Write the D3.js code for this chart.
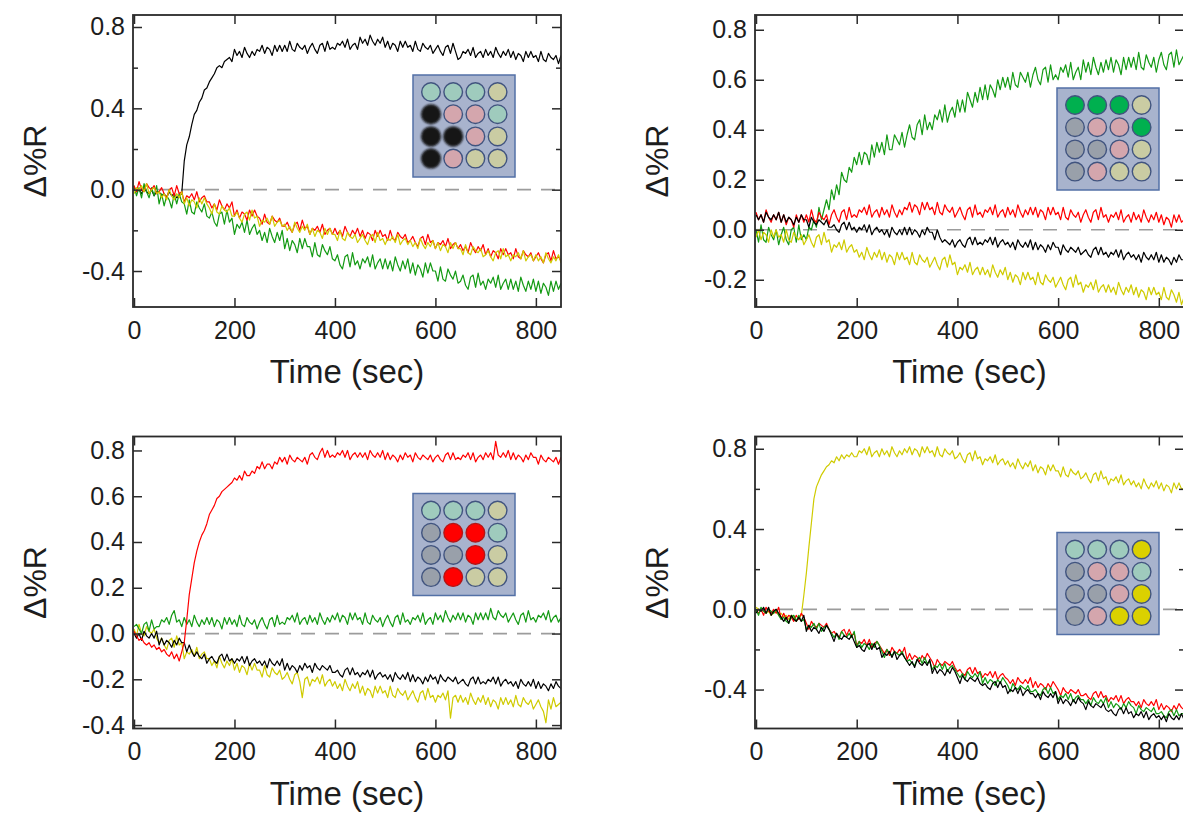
<!DOCTYPE html>
<html>
<head>
<meta charset="utf-8">
<script src="https://cdn.jsdelivr.net/npm/d3@7"></script>
<style>
  html, body { margin: 0; padding: 0; background: #fff; }
  svg { display: block; font-family: "Liberation Sans", Arial, sans-serif; }
</style>
</head>
<body>
<svg id="chart" width="1183" height="813"></svg>
<script>
// Sample times (sec), one reading every 5 s
const time = [
  0,5,10,15,20,25,30,35,40,45,
  50,55,60,65,70,75,80,85,90,95,
  100,105,110,115,120,125,130,135,140,145,
  150,155,160,165,170,175,180,185,190,195,
  200,205,210,215,220,225,230,235,240,245,
  250,255,260,265,270,275,280,285,290,295,
  300,305,310,315,320,325,330,335,340,345,
  350,355,360,365,370,375,380,385,390,395,
  400,405,410,415,420,425,430,435,440,445,
  450,455,460,465,470,475,480,485,490,495,
  500,505,510,515,520,525,530,535,540,545,
  550,555,560,565,570,575,580,585,590,595,
  600,605,610,615,620,625,630,635,640,645,
  650,655,660,665,670,675,680,685,690,695,
  700,705,710,715,720,725,730,735,740,745,
  750,755,760,765,770,775,780,785,790,795,
  800,805,810,815,820,825,830,835,840,845,
  850
];

// ---- Panel A: black analyte ----
const aBlack = [
  0.01,-0.01,0.00,-0.02,0.01,-0.01,-0.02,0.00,-0.03,-0.01,
  -0.01,-0.03,-0.02,-0.04,-0.01,-0.03,-0.02,-0.04,-0.03,-0.02,
  0.14,0.22,0.26,0.32,0.37,0.39,0.43,0.45,0.49,0.50,
  0.53,0.55,0.57,0.60,0.61,0.60,0.63,0.64,0.65,0.63,
  0.69,0.66,0.68,0.65,0.70,0.67,0.65,0.68,0.66,0.69,
  0.68,0.71,0.67,0.70,0.69,0.66,0.71,0.68,0.71,0.68,
  0.71,0.68,0.73,0.69,0.68,0.72,0.70,0.69,0.71,0.67,
  0.70,0.72,0.69,0.67,0.71,0.72,0.68,0.73,0.69,0.70,
  0.69,0.72,0.71,0.73,0.70,0.74,0.69,0.71,0.72,0.69,
  0.75,0.72,0.74,0.71,0.76,0.73,0.71,0.74,0.72,0.75,
  0.70,0.73,0.69,0.72,0.71,0.68,0.73,0.70,0.73,0.70,
  0.71,0.68,0.73,0.69,0.68,0.72,0.70,0.69,0.71,0.67,
  0.69,0.71,0.68,0.66,0.70,0.71,0.67,0.72,0.68,0.64,
  0.65,0.68,0.67,0.69,0.66,0.70,0.65,0.67,0.68,0.65,
  0.69,0.66,0.68,0.65,0.70,0.67,0.65,0.68,0.66,0.69,
  0.65,0.68,0.64,0.67,0.66,0.63,0.68,0.65,0.68,0.65,
  0.66,0.63,0.68,0.64,0.63,0.67,0.65,0.64,0.66,0.62,
  0.66
];
const aRed = [
  0.02,-0.01,0.04,0.00,-0.01,0.03,0.01,0.00,0.02,-0.02,
  -0.01,0.01,-0.02,-0.04,0.00,0.01,-0.03,0.02,-0.02,-0.01,
  -0.06,-0.03,-0.04,-0.02,-0.05,-0.01,-0.06,-0.04,-0.03,-0.06,
  -0.06,-0.09,-0.07,-0.10,-0.05,-0.08,-0.10,-0.07,-0.09,-0.06,
  -0.13,-0.10,-0.14,-0.11,-0.12,-0.15,-0.10,-0.13,-0.10,-0.13,
  -0.14,-0.17,-0.12,-0.16,-0.17,-0.13,-0.15,-0.16,-0.14,-0.18,
  -0.18,-0.16,-0.19,-0.21,-0.17,-0.16,-0.20,-0.15,-0.19,-0.18,
  -0.22,-0.19,-0.20,-0.18,-0.21,-0.17,-0.22,-0.20,-0.19,-0.22,
  -0.19,-0.22,-0.20,-0.23,-0.18,-0.21,-0.23,-0.20,-0.22,-0.19,
  -0.23,-0.20,-0.24,-0.21,-0.22,-0.25,-0.20,-0.23,-0.20,-0.23,
  -0.22,-0.25,-0.20,-0.24,-0.25,-0.21,-0.23,-0.24,-0.22,-0.26,
  -0.25,-0.23,-0.26,-0.28,-0.24,-0.23,-0.27,-0.22,-0.26,-0.25,
  -0.29,-0.26,-0.27,-0.25,-0.28,-0.24,-0.29,-0.27,-0.26,-0.29,
  -0.27,-0.30,-0.28,-0.31,-0.26,-0.29,-0.31,-0.28,-0.30,-0.27,
  -0.32,-0.29,-0.33,-0.30,-0.31,-0.34,-0.29,-0.32,-0.29,-0.32,
  -0.31,-0.34,-0.29,-0.33,-0.34,-0.30,-0.32,-0.33,-0.31,-0.35,
  -0.33,-0.31,-0.34,-0.36,-0.32,-0.31,-0.35,-0.30,-0.34,-0.33,
  -0.35
];
const aYellow = [
  -0.02,0.01,0.00,0.02,-0.01,0.03,-0.02,0.00,0.01,-0.02,
  -0.01,-0.04,-0.02,-0.05,0.00,-0.03,-0.05,-0.02,-0.04,-0.01,
  -0.07,-0.04,-0.08,-0.05,-0.06,-0.09,-0.04,-0.07,-0.04,-0.07,
  -0.09,-0.12,-0.07,-0.11,-0.12,-0.08,-0.10,-0.11,-0.09,-0.13,
  -0.13,-0.11,-0.14,-0.16,-0.12,-0.11,-0.15,-0.10,-0.14,-0.13,
  -0.18,-0.15,-0.16,-0.14,-0.17,-0.13,-0.18,-0.16,-0.15,-0.18,
  -0.17,-0.20,-0.18,-0.21,-0.16,-0.19,-0.21,-0.18,-0.20,-0.17,
  -0.22,-0.19,-0.23,-0.20,-0.21,-0.24,-0.19,-0.22,-0.19,-0.22,
  -0.22,-0.25,-0.20,-0.24,-0.25,-0.21,-0.23,-0.24,-0.22,-0.26,
  -0.24,-0.22,-0.25,-0.27,-0.23,-0.22,-0.26,-0.21,-0.25,-0.24,
  -0.27,-0.24,-0.25,-0.23,-0.26,-0.22,-0.27,-0.25,-0.24,-0.27,
  -0.25,-0.28,-0.26,-0.29,-0.24,-0.27,-0.29,-0.26,-0.28,-0.25,
  -0.29,-0.26,-0.30,-0.27,-0.28,-0.31,-0.26,-0.29,-0.26,-0.29,
  -0.29,-0.32,-0.27,-0.31,-0.32,-0.28,-0.30,-0.31,-0.29,-0.33,
  -0.32,-0.30,-0.33,-0.35,-0.31,-0.30,-0.34,-0.29,-0.33,-0.32,
  -0.35,-0.32,-0.33,-0.31,-0.34,-0.30,-0.35,-0.33,-0.32,-0.35,
  -0.32,-0.35,-0.33,-0.36,-0.31,-0.34,-0.36,-0.33,-0.35,-0.32,
  -0.36
];
const aGreen = [
  0.02,-0.03,0.01,-0.04,0.03,-0.01,-0.04,0.01,-0.03,0.02,
  -0.07,-0.02,-0.08,-0.03,-0.05,-0.09,-0.02,-0.07,-0.02,-0.06,
  -0.07,-0.12,-0.05,-0.11,-0.12,-0.06,-0.09,-0.11,-0.07,-0.13,
  -0.14,-0.11,-0.16,-0.18,-0.12,-0.11,-0.17,-0.10,-0.16,-0.14,
  -0.22,-0.17,-0.19,-0.16,-0.21,-0.15,-0.22,-0.19,-0.17,-0.22,
  -0.20,-0.25,-0.21,-0.26,-0.19,-0.23,-0.26,-0.21,-0.25,-0.20,
  -0.29,-0.24,-0.30,-0.25,-0.27,-0.31,-0.24,-0.29,-0.24,-0.28,
  -0.28,-0.33,-0.26,-0.32,-0.33,-0.27,-0.30,-0.32,-0.28,-0.34,
  -0.35,-0.32,-0.37,-0.39,-0.33,-0.32,-0.38,-0.31,-0.37,-0.35,
  -0.39,-0.34,-0.36,-0.33,-0.38,-0.32,-0.39,-0.36,-0.34,-0.39,
  -0.34,-0.39,-0.35,-0.40,-0.33,-0.37,-0.40,-0.35,-0.39,-0.34,
  -0.41,-0.36,-0.42,-0.37,-0.39,-0.43,-0.36,-0.41,-0.36,-0.40,
  -0.40,-0.45,-0.38,-0.44,-0.45,-0.39,-0.42,-0.44,-0.40,-0.46,
  -0.45,-0.42,-0.47,-0.49,-0.43,-0.42,-0.48,-0.41,-0.47,-0.45,
  -0.49,-0.44,-0.46,-0.43,-0.48,-0.42,-0.49,-0.46,-0.44,-0.49,
  -0.44,-0.49,-0.45,-0.50,-0.43,-0.47,-0.50,-0.45,-0.49,-0.44,
  -0.50,-0.45,-0.51,-0.46,-0.48,-0.52,-0.45,-0.50,-0.45,-0.49,
  -0.46
];

// ---- Panel B: green analyte ----
const bGreen = [
  0.00,-0.05,0.02,-0.04,-0.05,0.01,-0.02,-0.04,0.00,-0.06,
  -0.02,0.01,-0.04,-0.06,0.00,0.01,-0.05,0.02,-0.04,-0.02,
  -0.04,0.01,0.00,0.04,0.01,0.09,0.04,0.08,0.12,0.08,
  0.16,0.12,0.18,0.14,0.23,0.20,0.19,0.25,0.23,0.29,
  0.26,0.31,0.26,0.31,0.30,0.26,0.34,0.29,0.35,0.31,
  0.35,0.30,0.38,0.32,0.32,0.38,0.36,0.34,0.39,0.33,
  0.38,0.42,0.37,0.36,0.42,0.44,0.38,0.46,0.40,0.43,
  0.40,0.46,0.44,0.48,0.43,0.50,0.43,0.47,0.49,0.45,
  0.52,0.47,0.52,0.47,0.55,0.52,0.49,0.55,0.51,0.57,
  0.52,0.58,0.52,0.58,0.56,0.53,0.60,0.56,0.61,0.57,
  0.61,0.56,0.63,0.58,0.57,0.63,0.61,0.59,0.63,0.57,
  0.62,0.65,0.60,0.58,0.64,0.65,0.59,0.66,0.60,0.62,
  0.60,0.65,0.63,0.66,0.61,0.67,0.60,0.63,0.65,0.60,
  0.68,0.63,0.67,0.62,0.69,0.65,0.62,0.67,0.63,0.68,
  0.64,0.69,0.63,0.68,0.66,0.62,0.69,0.64,0.69,0.65,
  0.69,0.64,0.71,0.65,0.64,0.70,0.67,0.65,0.69,0.63,
  0.68,0.71,0.66,0.64,0.70,0.71,0.65,0.72,0.66,0.68,
  0.70
];
const bRed = [
  0.07,0.04,0.06,0.03,0.08,0.05,0.03,0.06,0.04,0.07,
  0.03,0.06,0.02,0.05,0.04,0.01,0.06,0.03,0.06,0.03,
  0.06,0.03,0.08,0.04,0.03,0.07,0.05,0.04,0.06,0.02,
  0.06,0.08,0.05,0.03,0.07,0.08,0.04,0.09,0.05,0.06,
  0.05,0.08,0.07,0.09,0.06,0.10,0.05,0.07,0.08,0.05,
  0.09,0.06,0.08,0.05,0.10,0.07,0.05,0.08,0.06,0.09,
  0.08,0.11,0.07,0.10,0.09,0.06,0.11,0.08,0.11,0.08,
  0.09,0.06,0.11,0.07,0.06,0.10,0.08,0.07,0.09,0.05,
  0.07,0.09,0.06,0.04,0.08,0.09,0.05,0.10,0.06,0.07,
  0.05,0.08,0.07,0.09,0.06,0.10,0.05,0.07,0.08,0.05,
  0.09,0.06,0.08,0.05,0.10,0.07,0.05,0.08,0.06,0.09,
  0.06,0.09,0.05,0.08,0.07,0.04,0.09,0.06,0.09,0.06,
  0.07,0.04,0.09,0.05,0.04,0.08,0.06,0.05,0.07,0.03,
  0.06,0.08,0.05,0.03,0.07,0.08,0.04,0.09,0.05,0.06,
  0.03,0.06,0.05,0.07,0.04,0.08,0.03,0.05,0.06,0.03,
  0.07,0.04,0.06,0.03,0.08,0.05,0.03,0.06,0.04,0.07,
  0.03,0.06,0.02,0.05,0.04,0.01,0.06,0.03,0.06,0.03,
  0.04
];
const bBlack = [
  0.06,0.04,0.06,0.03,0.07,0.05,0.04,0.06,0.04,0.07,
  0.03,0.06,0.03,0.05,0.04,0.02,0.05,0.03,0.06,0.04,
  0.04,0.01,0.05,0.03,0.02,0.04,0.03,0.02,0.04,0.01,
  0.01,0.02,0.00,-0.01,0.02,0.03,0.00,0.03,0.00,0.01,
  -0.01,0.01,0.00,0.02,-0.01,0.02,-0.02,0.00,0.01,-0.01,
  0.00,-0.02,0.00,-0.03,0.01,-0.01,-0.02,0.00,-0.02,0.01,
  -0.02,0.01,-0.02,0.00,-0.01,-0.03,0.00,-0.02,0.01,-0.01,
  -0.01,-0.04,0.00,-0.03,-0.05,-0.04,-0.05,-0.06,-0.04,-0.07,
  -0.05,-0.04,-0.06,-0.07,-0.04,-0.03,-0.06,-0.03,-0.06,-0.05,
  -0.06,-0.04,-0.05,-0.03,-0.06,-0.03,-0.07,-0.05,-0.04,-0.06,
  -0.05,-0.07,-0.05,-0.08,-0.04,-0.06,-0.07,-0.05,-0.07,-0.04,
  -0.08,-0.05,-0.08,-0.06,-0.07,-0.09,-0.06,-0.08,-0.05,-0.07,
  -0.07,-0.10,-0.06,-0.08,-0.09,-0.07,-0.08,-0.09,-0.07,-0.10,
  -0.09,-0.08,-0.10,-0.11,-0.08,-0.07,-0.10,-0.07,-0.10,-0.09,
  -0.11,-0.09,-0.10,-0.08,-0.11,-0.08,-0.12,-0.10,-0.09,-0.11,
  -0.10,-0.12,-0.10,-0.13,-0.09,-0.11,-0.12,-0.10,-0.12,-0.09,
  -0.13,-0.10,-0.13,-0.11,-0.12,-0.14,-0.11,-0.13,-0.10,-0.12,
  -0.12
];
const bYellow = [
  -0.03,0.00,-0.04,-0.01,-0.02,-0.05,0.00,-0.03,0.00,-0.03,
  -0.02,-0.05,0.00,-0.04,-0.05,-0.01,-0.03,-0.04,-0.02,-0.06,
  -0.04,-0.02,-0.05,-0.07,-0.03,-0.02,-0.06,-0.01,-0.05,-0.04,
  -0.09,-0.06,-0.07,-0.05,-0.08,-0.04,-0.09,-0.07,-0.06,-0.09,
  -0.08,-0.11,-0.09,-0.12,-0.07,-0.10,-0.12,-0.09,-0.11,-0.08,
  -0.12,-0.09,-0.13,-0.10,-0.11,-0.14,-0.09,-0.12,-0.09,-0.12,
  -0.11,-0.14,-0.09,-0.13,-0.14,-0.10,-0.12,-0.13,-0.11,-0.15,
  -0.13,-0.11,-0.14,-0.16,-0.12,-0.11,-0.15,-0.10,-0.14,-0.13,
  -0.18,-0.15,-0.16,-0.14,-0.17,-0.13,-0.18,-0.16,-0.15,-0.18,
  -0.15,-0.18,-0.16,-0.19,-0.14,-0.17,-0.19,-0.16,-0.18,-0.15,
  -0.20,-0.17,-0.21,-0.18,-0.19,-0.22,-0.17,-0.20,-0.17,-0.20,
  -0.19,-0.22,-0.17,-0.21,-0.22,-0.18,-0.20,-0.21,-0.19,-0.23,
  -0.21,-0.19,-0.22,-0.24,-0.20,-0.19,-0.23,-0.18,-0.22,-0.21,
  -0.25,-0.22,-0.23,-0.21,-0.24,-0.20,-0.25,-0.23,-0.22,-0.25,
  -0.22,-0.25,-0.23,-0.26,-0.21,-0.24,-0.26,-0.23,-0.25,-0.22,
  -0.26,-0.23,-0.27,-0.24,-0.25,-0.28,-0.23,-0.26,-0.23,-0.26,
  -0.25,-0.28,-0.23,-0.27,-0.28,-0.24,-0.26,-0.29,-0.25,-0.30,
  -0.27
];

// ---- Panel C: red analyte ----
const cRed = [
  0.01,-0.01,-0.03,-0.02,-0.04,-0.05,-0.04,-0.06,-0.05,-0.07,
  -0.06,-0.08,-0.07,-0.09,-0.10,-0.08,-0.11,-0.09,-0.12,-0.08,
  -0.04,0.06,0.17,0.24,0.31,0.36,0.40,0.43,0.45,0.48,
  0.52,0.54,0.56,0.59,0.60,0.62,0.63,0.64,0.65,0.66,
  0.68,0.67,0.69,0.67,0.71,0.69,0.69,0.71,0.70,0.73,
  0.72,0.75,0.72,0.74,0.74,0.72,0.75,0.74,0.77,0.75,
  0.77,0.74,0.78,0.76,0.75,0.77,0.76,0.75,0.77,0.74,
  0.78,0.79,0.77,0.76,0.79,0.81,0.77,0.80,0.77,0.78,
  0.77,0.79,0.78,0.80,0.77,0.80,0.76,0.78,0.79,0.77,
  0.79,0.77,0.79,0.76,0.80,0.78,0.77,0.79,0.77,0.80,
  0.76,0.79,0.76,0.78,0.77,0.75,0.78,0.76,0.79,0.77,
  0.78,0.75,0.79,0.77,0.76,0.78,0.77,0.76,0.78,0.75,
  0.77,0.78,0.76,0.75,0.78,0.79,0.76,0.79,0.76,0.77,
  0.76,0.78,0.77,0.79,0.76,0.79,0.75,0.77,0.78,0.76,
  0.79,0.77,0.79,0.76,0.84,0.78,0.77,0.79,0.77,0.80,
  0.76,0.79,0.76,0.78,0.77,0.75,0.78,0.76,0.79,0.77,
  0.77,0.74,0.78,0.76,0.75,0.77,0.76,0.75,0.77,0.74,
  0.77
];
const cGreen = [
  0.03,0.04,0.02,0.00,0.04,0.05,0.01,0.06,0.02,0.03,
  0.03,0.06,0.05,0.07,0.04,0.08,0.10,0.05,0.06,0.03,
  0.07,0.04,0.06,0.03,0.08,0.05,0.03,0.06,0.04,0.07,
  0.04,0.07,0.03,0.06,0.05,0.02,0.07,0.04,0.07,0.04,
  0.06,0.03,0.08,0.04,0.03,0.07,0.05,0.04,0.06,0.02,
  0.05,0.07,0.04,0.02,0.06,0.07,0.03,0.08,0.04,0.05,
  0.04,0.07,0.06,0.08,0.05,0.09,0.04,0.06,0.07,0.04,
  0.08,0.05,0.07,0.04,0.09,0.06,0.04,0.07,0.05,0.08,
  0.06,0.09,0.05,0.08,0.07,0.04,0.09,0.06,0.09,0.06,
  0.07,0.04,0.09,0.05,0.04,0.08,0.06,0.05,0.07,0.03,
  0.06,0.08,0.05,0.03,0.07,0.08,0.04,0.09,0.05,0.06,
  0.04,0.07,0.06,0.08,0.05,0.09,0.04,0.06,0.07,0.04,
  0.09,0.06,0.08,0.05,0.10,0.07,0.05,0.08,0.06,0.09,
  0.06,0.09,0.05,0.08,0.07,0.04,0.09,0.06,0.09,0.06,
  0.09,0.06,0.11,0.07,0.06,0.10,0.08,0.07,0.09,0.05,
  0.07,0.09,0.06,0.04,0.08,0.09,0.05,0.10,0.06,0.07,
  0.05,0.08,0.07,0.09,0.06,0.10,0.05,0.07,0.08,0.05,
  0.07
];
const cBlack = [
  0.00,-0.02,0.00,-0.03,0.01,-0.01,-0.02,0.00,-0.02,0.01,
  -0.05,-0.02,-0.05,-0.03,-0.04,-0.06,-0.03,-0.05,-0.02,-0.04,
  -0.04,-0.08,-0.05,-0.08,-0.10,-0.08,-0.10,-0.11,-0.09,-0.13,
  -0.11,-0.10,-0.12,-0.13,-0.10,-0.09,-0.12,-0.09,-0.12,-0.11,
  -0.13,-0.11,-0.12,-0.10,-0.13,-0.10,-0.14,-0.12,-0.11,-0.13,
  -0.12,-0.14,-0.12,-0.15,-0.11,-0.13,-0.14,-0.12,-0.14,-0.11,
  -0.16,-0.13,-0.16,-0.14,-0.15,-0.17,-0.14,-0.16,-0.13,-0.15,
  -0.14,-0.17,-0.13,-0.15,-0.16,-0.14,-0.15,-0.16,-0.14,-0.17,
  -0.17,-0.16,-0.18,-0.19,-0.16,-0.15,-0.18,-0.15,-0.18,-0.17,
  -0.19,-0.17,-0.18,-0.16,-0.19,-0.16,-0.20,-0.18,-0.17,-0.19,
  -0.18,-0.20,-0.18,-0.21,-0.17,-0.19,-0.20,-0.18,-0.20,-0.17,
  -0.21,-0.18,-0.21,-0.19,-0.20,-0.22,-0.19,-0.21,-0.18,-0.20,
  -0.19,-0.22,-0.18,-0.20,-0.21,-0.19,-0.20,-0.21,-0.19,-0.22,
  -0.21,-0.20,-0.22,-0.23,-0.20,-0.19,-0.22,-0.19,-0.22,-0.21,
  -0.22,-0.20,-0.21,-0.19,-0.22,-0.19,-0.23,-0.21,-0.20,-0.22,
  -0.21,-0.23,-0.21,-0.24,-0.20,-0.22,-0.23,-0.21,-0.23,-0.20,
  -0.24,-0.21,-0.24,-0.22,-0.23,-0.25,-0.22,-0.24,-0.21,-0.23,
  -0.24
];
const cYellow = [
  0.02,-0.01,0.04,0.00,-0.01,0.03,0.01,0.00,0.02,-0.02,
  -0.04,-0.02,-0.05,-0.07,-0.03,-0.02,-0.06,-0.01,-0.05,-0.04,
  -0.11,-0.08,-0.09,-0.07,-0.10,-0.06,-0.11,-0.09,-0.08,-0.11,
  -0.11,-0.14,-0.12,-0.15,-0.10,-0.13,-0.15,-0.12,-0.14,-0.11,
  -0.16,-0.13,-0.17,-0.14,-0.15,-0.18,-0.13,-0.16,-0.13,-0.16,
  -0.16,-0.19,-0.14,-0.18,-0.19,-0.15,-0.17,-0.18,-0.16,-0.20,
  -0.19,-0.17,-0.20,-0.22,-0.18,-0.17,-0.21,-0.28,-0.20,-0.19,
  -0.23,-0.20,-0.21,-0.19,-0.22,-0.18,-0.23,-0.21,-0.20,-0.23,
  -0.21,-0.24,-0.22,-0.25,-0.20,-0.23,-0.25,-0.22,-0.24,-0.21,
  -0.26,-0.23,-0.27,-0.24,-0.25,-0.28,-0.23,-0.26,-0.23,-0.26,
  -0.25,-0.28,-0.23,-0.27,-0.28,-0.24,-0.26,-0.27,-0.25,-0.29,
  -0.27,-0.25,-0.28,-0.30,-0.26,-0.25,-0.29,-0.24,-0.28,-0.27,
  -0.30,-0.27,-0.28,-0.26,-0.29,-0.25,-0.37,-0.28,-0.27,-0.30,
  -0.27,-0.30,-0.28,-0.31,-0.26,-0.29,-0.31,-0.28,-0.30,-0.27,
  -0.31,-0.28,-0.32,-0.29,-0.30,-0.33,-0.28,-0.31,-0.28,-0.31,
  -0.29,-0.32,-0.27,-0.31,-0.32,-0.28,-0.30,-0.31,-0.29,-0.33,
  -0.31,-0.29,-0.32,-0.34,-0.39,-0.29,-0.33,-0.28,-0.32,-0.31,
  -0.30
];

// ---- Panel D: yellow analyte ----
const dYellow = [
  0.01,0.00,-0.01,0.00,-0.02,-0.01,-0.03,-0.02,-0.01,-0.03,
  -0.02,-0.04,-0.03,-0.05,-0.03,-0.04,-0.06,-0.04,-0.03,0.07,
  0.18,0.31,0.43,0.55,0.61,0.64,0.67,0.69,0.71,0.72,
  0.74,0.73,0.76,0.74,0.77,0.75,0.77,0.76,0.78,0.76,
  0.76,0.79,0.78,0.80,0.77,0.81,0.76,0.78,0.79,0.76,
  0.80,0.77,0.79,0.76,0.81,0.78,0.76,0.79,0.77,0.80,
  0.78,0.81,0.77,0.80,0.79,0.76,0.81,0.78,0.81,0.78,
  0.79,0.76,0.81,0.77,0.76,0.80,0.78,0.77,0.79,0.75,
  0.76,0.78,0.75,0.73,0.77,0.78,0.74,0.79,0.75,0.76,
  0.72,0.75,0.74,0.76,0.73,0.77,0.72,0.74,0.75,0.72,
  0.74,0.71,0.73,0.70,0.75,0.72,0.70,0.73,0.71,0.74,
  0.69,0.72,0.68,0.71,0.70,0.67,0.72,0.69,0.72,0.69,
  0.69,0.66,0.71,0.67,0.66,0.70,0.68,0.67,0.69,0.65,
  0.66,0.68,0.65,0.63,0.67,0.68,0.64,0.69,0.65,0.66,
  0.62,0.65,0.64,0.66,0.63,0.67,0.62,0.64,0.65,0.62,
  0.64,0.61,0.63,0.60,0.65,0.62,0.60,0.63,0.61,0.64,
  0.60,0.63,0.59,0.62,0.61,0.58,0.63,0.60,0.63,0.60,
  0.60
];
const dRed = [
  0.00,-0.02,0.00,-0.03,0.01,-0.01,-0.02,0.00,-0.02,0.01,
  -0.05,-0.02,-0.05,-0.03,-0.04,-0.06,-0.03,-0.05,-0.02,-0.04,
  -0.07,-0.10,-0.06,-0.08,-0.09,-0.07,-0.08,-0.09,-0.07,-0.10,
  -0.12,-0.11,-0.13,-0.14,-0.11,-0.10,-0.13,-0.10,-0.13,-0.12,
  -0.18,-0.16,-0.17,-0.15,-0.18,-0.15,-0.19,-0.17,-0.16,-0.18,
  -0.20,-0.22,-0.20,-0.23,-0.19,-0.21,-0.22,-0.20,-0.22,-0.19,
  -0.25,-0.22,-0.25,-0.23,-0.24,-0.26,-0.23,-0.25,-0.22,-0.24,
  -0.26,-0.29,-0.25,-0.27,-0.28,-0.26,-0.27,-0.28,-0.26,-0.29,
  -0.31,-0.30,-0.32,-0.33,-0.30,-0.29,-0.32,-0.29,-0.32,-0.31,
  -0.34,-0.32,-0.33,-0.31,-0.34,-0.31,-0.35,-0.33,-0.32,-0.34,
  -0.35,-0.37,-0.35,-0.38,-0.34,-0.36,-0.37,-0.35,-0.37,-0.34,
  -0.39,-0.36,-0.39,-0.37,-0.38,-0.40,-0.37,-0.39,-0.36,-0.38,
  -0.40,-0.43,-0.39,-0.41,-0.42,-0.40,-0.41,-0.42,-0.40,-0.43,
  -0.43,-0.42,-0.44,-0.45,-0.42,-0.41,-0.44,-0.41,-0.44,-0.43,
  -0.46,-0.44,-0.45,-0.43,-0.46,-0.43,-0.47,-0.45,-0.44,-0.46,
  -0.46,-0.48,-0.46,-0.49,-0.45,-0.47,-0.48,-0.46,-0.48,-0.45,
  -0.50,-0.47,-0.50,-0.48,-0.49,-0.51,-0.48,-0.50,-0.47,-0.49,
  -0.50
];
const dGreen = [
  0.00,-0.03,0.01,-0.01,-0.02,0.00,-0.01,-0.02,0.00,-0.03,
  -0.05,-0.04,-0.06,-0.07,-0.04,-0.03,-0.06,-0.03,-0.06,-0.05,
  -0.10,-0.08,-0.09,-0.07,-0.10,-0.07,-0.11,-0.09,-0.08,-0.10,
  -0.12,-0.14,-0.12,-0.15,-0.11,-0.13,-0.14,-0.12,-0.14,-0.11,
  -0.19,-0.16,-0.19,-0.17,-0.18,-0.20,-0.17,-0.19,-0.16,-0.18,
  -0.21,-0.24,-0.20,-0.22,-0.23,-0.21,-0.22,-0.23,-0.21,-0.24,
  -0.26,-0.25,-0.27,-0.28,-0.25,-0.24,-0.27,-0.24,-0.27,-0.26,
  -0.30,-0.28,-0.29,-0.27,-0.30,-0.27,-0.31,-0.29,-0.28,-0.30,
  -0.32,-0.34,-0.32,-0.35,-0.31,-0.33,-0.34,-0.32,-0.34,-0.31,
  -0.37,-0.34,-0.37,-0.35,-0.36,-0.38,-0.35,-0.37,-0.34,-0.36,
  -0.38,-0.41,-0.37,-0.39,-0.40,-0.38,-0.39,-0.40,-0.38,-0.41,
  -0.41,-0.40,-0.42,-0.43,-0.40,-0.39,-0.42,-0.39,-0.42,-0.41,
  -0.45,-0.43,-0.44,-0.42,-0.45,-0.42,-0.46,-0.44,-0.43,-0.45,
  -0.45,-0.47,-0.45,-0.48,-0.44,-0.46,-0.47,-0.45,-0.47,-0.44,
  -0.49,-0.46,-0.49,-0.47,-0.48,-0.50,-0.47,-0.49,-0.46,-0.48,
  -0.49,-0.52,-0.48,-0.50,-0.51,-0.49,-0.50,-0.51,-0.49,-0.52,
  -0.52,-0.51,-0.53,-0.54,-0.51,-0.50,-0.53,-0.50,-0.53,-0.52,
  -0.52
];
const dBlack = [
  -0.02,0.00,-0.01,0.01,-0.02,0.01,-0.03,-0.01,0.00,-0.02,
  -0.04,-0.06,-0.04,-0.07,-0.03,-0.05,-0.06,-0.04,-0.06,-0.03,
  -0.11,-0.08,-0.11,-0.09,-0.10,-0.12,-0.09,-0.11,-0.08,-0.10,
  -0.13,-0.16,-0.12,-0.14,-0.15,-0.13,-0.14,-0.15,-0.13,-0.16,
  -0.19,-0.18,-0.20,-0.21,-0.18,-0.17,-0.20,-0.17,-0.20,-0.19,
  -0.24,-0.22,-0.23,-0.21,-0.24,-0.21,-0.25,-0.23,-0.22,-0.24,
  -0.26,-0.28,-0.26,-0.29,-0.25,-0.27,-0.28,-0.26,-0.28,-0.25,
  -0.32,-0.29,-0.32,-0.30,-0.31,-0.33,-0.30,-0.32,-0.29,-0.31,
  -0.34,-0.37,-0.33,-0.35,-0.36,-0.34,-0.35,-0.36,-0.34,-0.37,
  -0.38,-0.37,-0.39,-0.40,-0.37,-0.36,-0.39,-0.36,-0.39,-0.38,
  -0.42,-0.40,-0.41,-0.39,-0.42,-0.39,-0.43,-0.41,-0.40,-0.42,
  -0.42,-0.44,-0.42,-0.45,-0.41,-0.43,-0.44,-0.42,-0.44,-0.41,
  -0.47,-0.44,-0.47,-0.45,-0.46,-0.48,-0.45,-0.47,-0.44,-0.46,
  -0.47,-0.50,-0.46,-0.48,-0.49,-0.47,-0.48,-0.49,-0.47,-0.50,
  -0.51,-0.50,-0.52,-0.53,-0.50,-0.49,-0.52,-0.49,-0.52,-0.51,
  -0.54,-0.52,-0.53,-0.51,-0.54,-0.51,-0.55,-0.53,-0.52,-0.54,
  -0.53,-0.55,-0.53,-0.56,-0.52,-0.54,-0.55,-0.53,-0.55,-0.52,
  -0.55
];

// Tick values
const xTicks = [0, 200, 400, 600, 800];
const aTicks = [-0.4, 0.0, 0.4, 0.8], aMinor = [-0.2, 0.2, 0.6];
const bTicks = [-0.2, 0.0, 0.2, 0.4, 0.6, 0.8], bMinor = [];
const cTicks = [-0.4, -0.2, 0.0, 0.2, 0.4, 0.6, 0.8], cMinor = [];
const dTicks = [-0.4, 0.0, 0.4, 0.8], dMinor = [-0.2, 0.2, 0.6];

// 4x4 sensor-array insets, row by row
// T teal, K khaki, P pink, G grey, B black, N green, R red, Y yellow
const aWells = ["T","T","T","K", "B","P","P","T", "B","B","P","K", "B","P","K","K"];
const bWells = ["N","N","N","K", "G","P","P","N", "G","G","P","K", "G","P","K","K"];
const cWells = ["T","T","T","K", "G","R","R","T", "G","G","R","K", "G","R","K","K"];
const dWells = ["T","T","T","Y", "G","P","P","T", "G","G","P","Y", "G","P","Y","Y"];

const wellFill = {
  T: "#9fcbbd", K: "#cacca3", P: "#d4a6ad", G: "#99a0aa",
  B: "#161616", N: "#00b04f", R: "#ff0000", Y: "#dbd100"
};
const traceColor = { black: "#000000", red: "#ff0000", green: "#139a13", yellow: "#cfcb00" };

const panels = [
  { id: "a", left: 133, top: 15, width: 428, height: 292, yDomain: [-0.577, 0.859],
    ticks: aTicks, minor: aMinor, wells: aWells, inset: [280, 60],
    traces: [["black", aBlack], ["green", aGreen], ["red", aRed], ["yellow", aYellow]] },
  { id: "b", left: 755, top: 15, width: 429, height: 292, yDomain: [-0.309, 0.859],
    ticks: bTicks, minor: bMinor, wells: bWells, inset: [302, 73],
    traces: [["green", bGreen], ["yellow", bYellow], ["red", bRed], ["black", bBlack]] },
  { id: "c", left: 133, top: 436.5, width: 428, height: 292, yDomain: [-0.415, 0.861],
    ticks: cTicks, minor: cMinor, wells: cWells, inset: [280, 57],
    traces: [["yellow", cYellow], ["black", cBlack], ["green", cGreen], ["red", cRed]] },
  { id: "d", left: 755, top: 436.5, width: 429, height: 292, yDomain: [-0.594, 0.861],
    ticks: dTicks, minor: dMinor, wells: dWells, inset: [302, 96],
    traces: [["yellow", dYellow], ["red", dRed], ["green", dGreen], ["black", dBlack]] }
];

const svg = d3.select("#chart");
const defs = svg.append("defs");
defs.append("filter").attr("id", "soft").attr("x", "-30%").attr("y", "-30%")
  .attr("width", "160%").attr("height", "160%")
  .append("feGaussianBlur").attr("stdDeviation", 0.8);

const ink = "#1d1d1d";
const fmtY = v => v.toFixed(1);

panels.forEach(p => {
  const x = d3.scaleLinear().domain([-2, 850]).range([p.left, p.left + p.width]);
  const y = d3.scaleLinear().domain(p.yDomain).range([p.top + p.height, p.top]);
  const g = svg.append("g").attr("class", "panel-" + p.id);

  defs.append("clipPath").attr("id", "clip-" + p.id)
    .append("rect").attr("x", p.left).attr("y", p.top)
    .attr("width", p.width).attr("height", p.height);

  // zero baseline
  g.append("line")
    .attr("x1", p.left).attr("x2", p.left + p.width)
    .attr("y1", y(0)).attr("y2", y(0))
    .attr("stroke", "#9c9c9c").attr("stroke-width", 1.7)
    .attr("stroke-dasharray", "14,10");

  // sensor array inset
  const bx = p.left + p.inset[0], by = p.top + p.inset[1];
  const inset = g.append("g");
  inset.append("rect").attr("x", bx).attr("y", by).attr("width", 102).attr("height", 102)
    .attr("fill", "#a8b3cd").attr("stroke", "#5370a6").attr("stroke-width", 1.5);
  inset.selectAll("circle").data(p.wells).join("circle")
    .attr("cx", (d, i) => bx + 18 + 22.2 * (i % 4))
    .attr("cy", (d, i) => by + 17 + 22.2 * Math.floor(i / 4))
    .attr("r", 9.3)
    .attr("fill", d => wellFill[d])
    .attr("stroke", d => d === "B" ? "#111" : (d === "R" ? "#b31616" : "#41547f"))
    .attr("stroke-width", 1.4)
    .attr("filter", d => d === "B" ? "url(#soft)" : null);

  // traces
  const line = d3.line().x((d, i) => x(time[i])).y(d => y(d));
  const tg = g.append("g").attr("clip-path", "url(#clip-" + p.id + ")");
  p.traces.forEach(([c, vals]) => {
    tg.append("path").datum(vals).attr("d", line)
      .attr("fill", "none").attr("stroke", traceColor[c])
      .attr("stroke-width", 1.2).attr("stroke-linejoin", "round");
  });

  // axes with inward ticks on all four sides
  g.append("g").attr("transform", `translate(0,${p.top + p.height})`)
    .call(d3.axisBottom(x).tickValues(xTicks).tickSize(-9).tickPadding(14).tickFormat(d => d));
  g.append("g").attr("transform", `translate(0,${p.top})`)
    .call(d3.axisTop(x).tickValues(xTicks).tickSize(-9).tickFormat(""));
  g.append("g").attr("transform", `translate(${p.left},0)`)
    .call(d3.axisLeft(y).tickValues(p.ticks).tickSize(-9).tickPadding(8).tickFormat(fmtY));
  g.append("g").attr("transform", `translate(${p.left + p.width},0)`)
    .call(d3.axisRight(y).tickValues(p.ticks).tickSize(-9).tickFormat(""));
  if (p.minor.length) {
    g.append("g").attr("transform", `translate(${p.left},0)`)
      .call(d3.axisLeft(y).tickValues(p.minor).tickSize(-5).tickFormat(""));
    g.append("g").attr("transform", `translate(${p.left + p.width},0)`)
      .call(d3.axisRight(y).tickValues(p.minor).tickSize(-5).tickFormat(""));
  }
  g.selectAll(".domain").remove();
  g.selectAll(".tick line").attr("stroke", "#2a2a2a").attr("stroke-width", 1.5);
  g.selectAll(".tick text").attr("fill", ink).attr("font-size", 25)
    .attr("font-family", "'Liberation Sans', Arial, sans-serif");

  // frame
  g.append("rect").attr("x", p.left).attr("y", p.top)
    .attr("width", p.width).attr("height", p.height)
    .attr("fill", "none").attr("stroke", "#2a2a2a").attr("stroke-width", 1.8);

  // axis titles
  g.append("text")
    .attr("x", p.left + p.width / 2).attr("y", p.top + p.height + 76)
    .attr("text-anchor", "middle").attr("font-size", 33).attr("fill", ink)
    .text("Time (sec)");
  g.append("text")
    .attr("transform", `translate(${p.left - 99},${p.top + p.height / 2}) rotate(-90)`)
    .attr("text-anchor", "middle").attr("dy", "0.36em")
    .attr("font-size", 32).attr("fill", ink)
    .text("Δ%R");
});
</script>
</body>
</html>
